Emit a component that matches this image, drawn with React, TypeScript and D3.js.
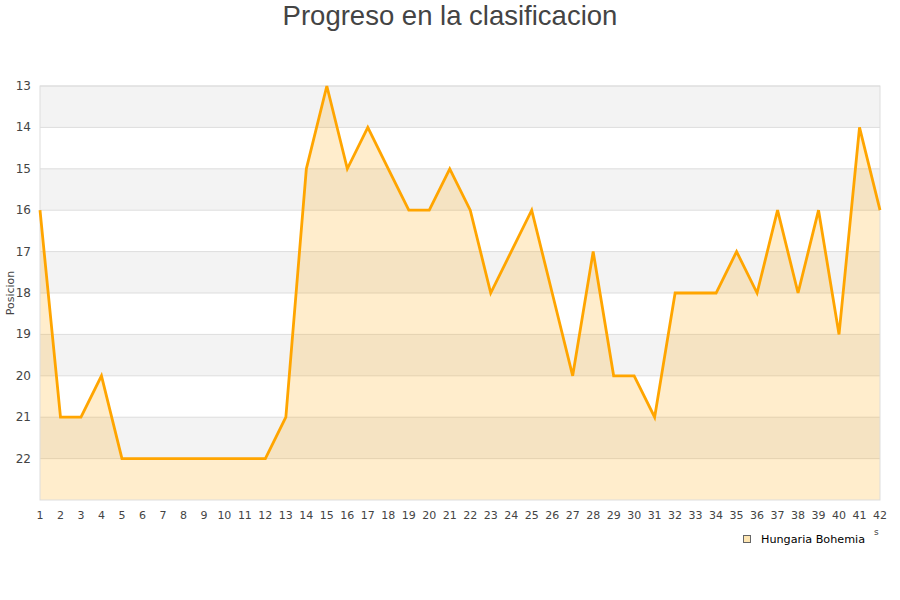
import React, { useRef, useEffect } from "react";
import * as d3 from "d3";

const jornadas = d3.range(1, 43);
const posiciones = [
  16, 21, 21, 20, 22, 22, 22, 22, 22, 22, 22, 22, 21, 15, 13, 15, 14, 15, 16, 16, 15,
  16, 18, 17, 16, 18, 20, 17, 20, 20, 21, 18, 18, 18, 17, 18, 16, 18, 16, 19, 14, 16,
];
const yTicks = [13, 14, 15, 16, 17, 18, 19, 20, 21, 22];
const equipo = "Hungaria Bohemia";

const App: React.FC = () => {
  const ref = useRef<SVGSVGElement | null>(null);

  useEffect(() => {
    if (!ref.current) return;
    const svg = d3.select(ref.current);
    svg.selectAll("*").remove();

    const width = 900;
    const height = 600;
    const margin = { top: 86, right: 20, bottom: 100, left: 40 };
    const font = "'DejaVu Sans', sans-serif";

    const x = d3
      .scaleLinear()
      .domain([1, 42])
      .range([margin.left, width - margin.right]);
    const y = d3
      .scaleLinear()
      .domain([13, 23])
      .range([margin.top, height - margin.bottom]);

    const data = jornadas.map((j, i) => ({ j, p: posiciones[i] }));

    // bands
    svg
      .append("g")
      .selectAll("rect")
      .data(d3.range(13, 23))
      .join("rect")
      .attr("x", margin.left)
      .attr("width", x(42) - x(1))
      .attr("y", (d) => y(d))
      .attr("height", (d) => y(d + 1) - y(d))
      .attr("fill", (d) => ((d - 13) % 2 === 0 ? "#f3f3f3" : "#ffffff"));

    // grid
    svg
      .append("g")
      .selectAll("line")
      .data(yTicks)
      .join("line")
      .attr("x1", margin.left)
      .attr("x2", x(42))
      .attr("y1", (d) => y(d))
      .attr("y2", (d) => y(d))
      .attr("stroke", "#dddddd");

    const area = d3
      .area<{ j: number; p: number }>()
      .x((d) => x(d.j))
      .y0(y(23))
      .y1((d) => y(d.p));
    svg
      .append("path")
      .datum(data)
      .attr("fill", "rgba(255,165,0,0.2)")
      .attr("d", area);

    // border
    svg
      .append("rect")
      .attr("x", margin.left)
      .attr("y", margin.top)
      .attr("width", x(42) - x(1))
      .attr("height", y(23) - y(13))
      .attr("fill", "none")
      .attr("stroke", "#dddddd");

    const line = d3
      .line<{ j: number; p: number }>()
      .x((d) => x(d.j))
      .y((d) => y(d.p));
    svg
      .append("path")
      .datum(data)
      .attr("fill", "none")
      .attr("stroke", "#ffa500")
      .attr("stroke-width", 2.8)
      .attr("stroke-linejoin", "miter")
      .attr("d", line);

    // y axis labels
    svg
      .append("g")
      .selectAll("text")
      .data(yTicks)
      .join("text")
      .attr("x", 31)
      .attr("y", (d) => y(d) + 4)
      .attr("text-anchor", "end")
      .attr("font-family", font)
      .attr("font-size", 12)
      .attr("fill", "#444")
      .text((d) => d);

    // x axis labels
    svg
      .append("g")
      .selectAll("text")
      .data(jornadas)
      .join("text")
      .attr("x", (d) => x(d))
      .attr("y", 519)
      .attr("text-anchor", "middle")
      .attr("font-family", font)
      .attr("font-size", 11)
      .attr("fill", "#444")
      .text((d) => d);

    svg
      .append("text")
      .attr("transform", `translate(14,${(y(13) + y(23)) / 2}) rotate(-90)`)
      .attr("text-anchor", "middle")
      .attr("font-family", font)
      .attr("font-size", 11)
      .attr("fill", "#444")
      .text("Posicion");

    svg
      .append("text")
      .attr("x", width / 2)
      .attr("y", 25)
      .attr("text-anchor", "middle")
      .attr("font-family", "'Liberation Sans', Arial, sans-serif")
      .attr("font-size", 27.5)
      .attr("fill", "#444")
      .text("Progreso en la clasificacion");

    // legend
    svg
      .append("rect")
      .attr("x", 743.5)
      .attr("y", 535.5)
      .attr("width", 7)
      .attr("height", 7)
      .attr("fill", "#fee6b3")
      .attr("stroke", "#666")
      .attr("stroke-width", 1);
    svg
      .append("text")
      .attr("x", 761)
      .attr("y", 543)
      .attr("font-family", font)
      .attr("font-size", 11.2)
      .attr("fill", "#000")
      .text(equipo);
    svg
      .append("text")
      .attr("x", 874)
      .attr("y", 535)
      .attr("font-family", font)
      .attr("font-size", 9)
      .attr("fill", "#444")
      .text("s");
  }, []);

  return <svg ref={ref} width={900} height={600} style={{ display: "block", position: "absolute", left: 0, top: 0 }} />;
};

export default App;
